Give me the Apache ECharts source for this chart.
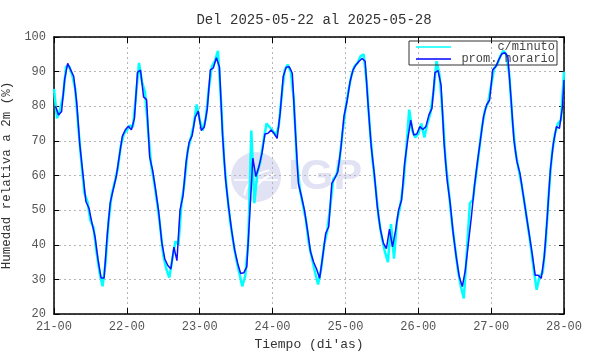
<!DOCTYPE html>
<html>
<head>
<meta charset="utf-8">
<script src="https://cdn.jsdelivr.net/npm/echarts@6/dist/echarts.min.js"></script>
<style>
  html, body { margin: 0; padding: 0; background: #fff; }
  #chart { width: 590px; height: 354px; }
</style>
</head>
<body>
<div id="chart"></div>
<script>
// promedio horario, un valor por hora (centrado en la media hora)
var hora21 = [80, 77.5, 78.5, 87.7, 92.4, 90.5, 88.6, 80.9, 68.9, 60.7, 52.5, 50.6, 46.3, 42.4, 35.7, 30.4, 30.4, 42.4, 52, 55.9, 59.7, 65.5, 71.3, 73.2];
var hora22 = [74.2, 73.2, 76.5, 89.8, 90.4, 82.7, 81.9, 65.4, 61.5, 55.7, 49.4, 40.7, 35.9, 34, 33, 39.3, 35.4, 49.9, 54.2, 63.8, 69.6, 71.5, 76.8, 78.6];
var hora23 = [73, 74, 79.3, 90.5, 91.1, 94, 91.3, 72, 59, 51, 44.2, 38.5, 34.6, 31.7, 31.9, 33.6, 49, 65, 59.7, 62.5, 66.4, 72, 72.2, 73.1];
var hora24 = [72.2, 70.7, 78, 88.6, 91.3, 91.4, 89.5, 73.1, 57.7, 54, 50, 44.2, 38, 35, 33, 30.3, 36.5, 43.3, 45.2, 57.7, 59.2, 61.1, 67.8, 77];
var hora25 = [81.3, 87, 90.5, 92, 93, 93.8, 93, 80, 68.3, 60.6, 51, 44.5, 40.5, 38.9, 44.5, 39.4, 44, 50, 52.9, 63.5, 70.2, 76, 71.7, 72];
var hora26 = [74.1, 73.3, 74.1, 77.5, 79.4, 89.7, 90.3, 86.1, 69.3, 58.7, 52, 43.3, 36.5, 30.8, 27.9, 32.7, 40.4, 48.1, 57, 64, 70.5, 77, 80.4, 81.8];
var hora27 = [90.5, 91.4, 93.4, 95.1, 95.5, 94.3, 82.8, 70.3, 64, 60.6, 54.8, 49, 43.3, 37.5, 31.2, 31.2, 30.3, 36.5, 48.1, 61.6, 69.3, 74.1, 73.6, 79.9];
var horaFin = 87.6;

var min21 = [85, 76.5, 79, 83, 91.5, 91.5, 89, 85, 74, 64, 55, 52.5, 47, 45, 38, 32, 28, 35, 47, 54.5, 58, 62, 68.5, 72];
var min22 = [73, 74.5, 74, 83, 92.5, 87, 84, 73, 63, 58, 52, 45, 37, 33, 30.5, 36, 41, 40, 52, 58, 67, 70.5, 74.5, 80.5];
var min23 = [76, 73, 76.5, 85, 91.5, 93, 96, 82, 65, 55, 47, 41, 36, 32, 28, 31, 41, 73, 52, 61, 64, 70, 75, 74];
var min24 = [73, 71.5, 74, 83, 90.5, 92, 90, 82, 64, 56, 51.5, 47, 40, 36, 32, 28.5, 33, 40, 44, 51, 59, 60, 64, 72];
var min25 = [79, 84.5, 89, 91.5, 92.5, 94.5, 95, 87, 74, 64, 56, 47.5, 42, 38, 35, 46, 36, 47, 51, 57, 67, 79, 73, 71];
var min26 = [72, 75, 71, 75, 78, 84, 93, 89, 78, 64, 56, 47, 40, 33, 28, 24.5, 38, 52, 53, 60, 67, 74, 79, 81];
var min27 = [86, 91, 92, 94.5, 96, 95, 89, 76, 67, 62, 57.5, 52, 46, 40, 33, 27, 31, 32, 41, 55, 66, 72, 75, 76];
var minFin = 90;

var xTickLabels = ['21-00', '22-00', '23-00', '24-00', '25-00', '26-00', '27-00', '28-00'];
var yTicks = [20, 30, 40, 50, 60, 70, 80, 90, 100];

var horario = [].concat(hora21, hora22, hora23, hora24, hora25, hora26, hora27);
var minuto = [].concat(min21, min22, min23, min24, min25, min26, min27);

var dataHorario = horario.map(function (v, i) { return [i + 0.5, v]; });
dataHorario.push([168, horaFin]);
var dataMinuto = minuto.map(function (v, i) { return [i, v]; });
dataMinuto.push([168, minFin]);

var mono = 'Liberation Mono';
var chart = echarts.init(document.getElementById('chart'));

var xBase = {
  type: 'value',
  min: 0,
  max: 168,
  interval: 24,
  axisLine: { show: true, onZero: false, lineStyle: { color: '#000', width: 1.5 } },
  axisTick: { show: true, inside: true, length: 6, lineStyle: { color: '#000' } },
  splitLine: { show: false }
};
var yBase = {
  type: 'value',
  min: yTicks[0],
  max: yTicks[yTicks.length - 1],
  interval: 10,
  axisLine: { show: true, onZero: false, lineStyle: { color: '#000', width: 1.5 } },
  axisTick: { show: true, inside: true, length: 5, lineStyle: { color: '#000' } },
  splitLine: { show: false }
};

chart.setOption({
  animation: false,
  title: {
    text: 'Del 2025-05-22 al 2025-05-28',
    left: 309,
    textAlign: 'center',
    top: 8,
    textStyle: { fontFamily: mono, fontSize: 14, fontWeight: 'normal', color: '#333' }
  },
  grid: { left: 54, right: 26, top: 37, bottom: 40, containLabel: false, outerBoundsMode: 'none' },
  legend: {
    data: ['c/minuto', 'prom. horario'],
    orient: 'vertical',
    left: 409,
    top: 41,
    padding: [0, 2, 0, 7],
    itemGap: 0,
    itemWidth: 35,
    itemHeight: 1.5,
    icon: 'rect',
    borderColor: '#333',
    borderWidth: 1,
    formatter: '{a|{name}}',
    textStyle: {
      fontFamily: mono,
      fontSize: 12,
      color: '#444',
      rich: { a: { width: 99, align: 'right', fontFamily: mono, fontSize: 12, lineHeight: 12.5, color: '#444' } }
    }
  },
  graphic: [
    {
      type: 'group',
      z: -10,
      children: [
        { type: 'circle', shape: { cx: 256, cy: 177, r: 25 }, style: { fill: '#e2e2f5' } },
        { type: 'arc', shape: { cx: 274, cy: 200, r: 30, startAngle: Math.PI * 1.05, endAngle: Math.PI * 1.45 }, style: { stroke: '#fff', lineWidth: 2, fill: null } },
        { type: 'arc', shape: { cx: 286, cy: 210, r: 38, startAngle: Math.PI * 1.05, endAngle: Math.PI * 1.4 }, style: { stroke: '#fff', lineWidth: 2, fill: null } },
        { type: 'line', shape: { x1: 234, y1: 180, x2: 278, y2: 180 }, style: { stroke: '#fff', lineWidth: 1.5 } },
        { type: 'text', x: 288, y: 177, style: { text: 'IGP', fontFamily: 'Liberation Sans', fontWeight: 'bold', fontSize: 43, fill: '#e2e2f5', verticalAlign: 'middle' } }
      ]
    }
  ],
  xAxis: [
    Object.assign({}, xBase, {
      position: 'bottom',
      name: "Tiempo (di'as)",
      nameLocation: 'middle',
      nameGap: 23,
      nameTextStyle: { fontFamily: mono, fontSize: 13, color: '#333' },
      axisLabel: {
        margin: 7,
        fontFamily: mono,
        fontSize: 12,
        color: '#555',
        formatter: function (v) { return xTickLabels[Math.round(v / 24)]; }
      },
      splitLine: { show: true, lineStyle: { color: '#b5b5b5', type: [2, 3], width: 1 } }
    }),
    Object.assign({}, xBase, { position: 'top', axisLabel: { show: false } })
  ],
  yAxis: [
    Object.assign({}, yBase, {
      position: 'left',
      name: 'Humedad relativa a 2m (%)',
      nameLocation: 'middle',
      nameGap: 38,
      nameTextStyle: { fontFamily: mono, fontSize: 12.5, color: '#333' },
      axisLabel: { margin: 8, fontFamily: mono, fontSize: 12, color: '#555' },
      splitLine: { show: true, lineStyle: { color: '#b5b5b5', type: [2, 3], width: 1 } }
    }),
    Object.assign({}, yBase, { position: 'right', axisLabel: { show: false } })
  ],
  series: [
    {
      name: 'c/minuto',
      type: 'line',
      data: dataMinuto,
      showSymbol: false,
      color: '#00ffff',
      lineStyle: { color: '#00ffff', width: 2.5 },
      z: 3
    },
    {
      name: 'prom. horario',
      type: 'line',
      data: dataHorario,
      showSymbol: false,
      color: '#0000ff',
      lineStyle: { color: '#1010ff', width: 1.5 },
      z: 4
    }
  ]
});
</script>
</body>
</html>
